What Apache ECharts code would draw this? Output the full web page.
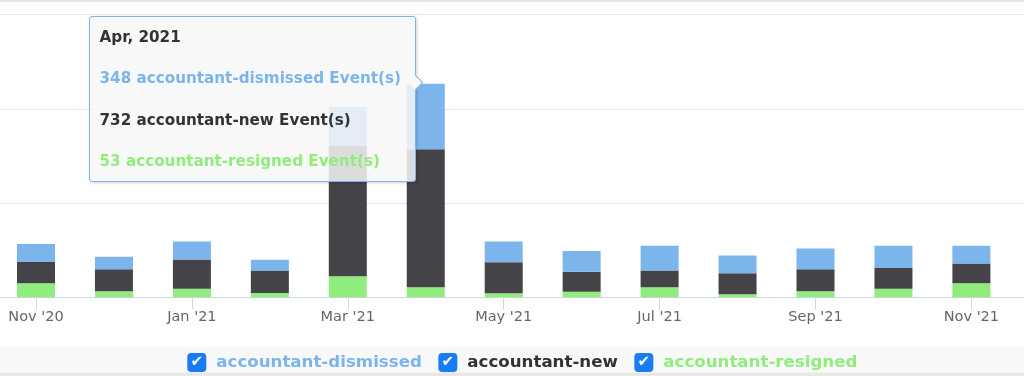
<!DOCTYPE html>
<html><head><meta charset="utf-8">
<script src="https://cdn.jsdelivr.net/npm/echarts@6/dist/echarts.min.js"></script>
<style>html,body{margin:0;padding:0;background:#fff;overflow:hidden;width:1024px;height:376px;position:relative;}
#chart{position:absolute;left:-10px;top:0;width:1044px;height:376px;}</style>
</head><body><div id="chart"></div>
<script>
// ---- data ----
const months = ["Nov '20","Dec '20","Jan '21","Feb '21","Mar '21","Apr '21","May '21","Jun '21","Jul '21","Aug '21","Sep '21","Oct '21","Nov '21"];
const tooltipTitles = ["Nov, 2020","Dec, 2020","Jan, 2021","Feb, 2021","Mar, 2021","Apr, 2021","May, 2021","Jun, 2021","Jul, 2021","Aug, 2021","Sep, 2021","Oct, 2021","Nov, 2021"];
const seriesNames = ["accountant-dismissed","accountant-new","accountant-resigned"];
const dismissed = [96, 66, 96, 57, 206, 348, 110, 110, 131, 94, 110, 117, 94];
const accountantNew = [112, 117, 154, 119, 691, 732, 165, 105, 89, 112, 117, 110, 104];
const resigned = [75, 32, 46, 23, 112, 53, 21, 30, 53, 16, 32, 46, 75];
const tickIndices = [0, 2, 4, 6, 8, 10, 12];
const yMax = 1500, yStep = 500;
const colors = ["#7cb5ec", "#434348", "#90ed7d"];
const tooltipIndex = 5;

// ---- layout (chart canvas is 10px wider on each side than the page) ----
const PAD = 10, W = 1024, FIRST_X = 36, STEP = 77.95;
const plotTop = 14.5, plotBottom = 78.7;
const font = "'DejaVu Sans', Verdana, sans-serif";

const chart = echarts.init(document.getElementById('chart'), null, {renderer: 'canvas'});

function line(txt, color) {
  return '<div style="height:41.5px;line-height:41.5px;color:' + color + ';">' + txt + '</div>';
}

const option = {
  animation: false,
  grid: [
    {left: PAD, right: PAD, top: plotTop, bottom: plotBottom},
    {left: PAD + FIRST_X - STEP / 2, right: PAD + W - (FIRST_X + STEP * (months.length - 0.5)), top: plotTop, bottom: plotBottom}
  ],
  xAxis: [
    {
      gridIndex: 0, type: 'value', min: -FIRST_X / STEP, max: (W - FIRST_X) / STEP,
      splitLine: {show: false},
      axisLine: {lineStyle: {color: '#ccd6eb', width: 1}},
      axisTick: {customValues: tickIndices, length: 12, lineStyle: {color: '#ccd6eb'}},
      axisLabel: {customValues: tickIndices, formatter: v => months[Math.round(v)], color: '#666',
        fontFamily: font, fontSize: 14.5, margin: 12}
    },
    {gridIndex: 1, type: 'category', data: months, show: false}
  ],
  yAxis: [
    {gridIndex: 0, type: 'value', min: 0, max: yMax, interval: yStep,
      axisLabel: {show: false}, axisLine: {show: false}, axisTick: {show: false},
      splitLine: {lineStyle: {color: '#e6e6e6'}}},
    {gridIndex: 1, type: 'value', min: 0, max: yMax, interval: yStep, show: false, splitLine: {show: false}}
  ],
  legend: {
    data: seriesNames, left: PAD + 182.3, top: 353, padding: 0, itemGap: 11.5,
    itemWidth: 0, itemHeight: 0,
    formatter: name => '{cb|✔}{n' + seriesNames.indexOf(name) + '|' + name + '}',
    textStyle: {
      fontFamily: font, fontWeight: 'bold', fontSize: 16.65,
      rich: {
        cb: {width: 19, height: 19, lineHeight: 19, align: 'center', backgroundColor: '#1a7cf4', borderRadius: 4,
          color: '#fff', fontSize: 15, fontWeight: 'bold', fontFamily: font},
        n0: {color: colors[0], padding: [0, 0, 0, 10], fontFamily: font, fontWeight: 'bold', fontSize: 16.65},
        n1: {color: '#333', padding: [0, 0, 0, 10], fontFamily: font, fontWeight: 'bold', fontSize: 16.65},
        n2: {color: colors[2], padding: [0, 0, 0, 10], fontFamily: font, fontWeight: 'bold', fontSize: 16.65}
      }
    }
  },
  tooltip: {
    trigger: 'item', triggerOn: 'none', alwaysShowContent: true, transitionDuration: 0,
    padding: 0, backgroundColor: 'rgba(247,247,247,0.85)', borderColor: '#7cb5ec', borderWidth: 1, borderRadius: 3,
    position: [PAD + 89, 16],
    extraCssText: 'box-shadow:1px 1px 3px rgba(0,0,0,0.18);',
    formatter: p => {
      const i = p.dataIndex;
      return '<div style="position:relative;width:325px;height:164px;font-family:' + font.replace(/'/g, '&quot;') +
        ';font-weight:bold;font-size:15.2px;">' +
        '<div style="position:absolute;left:9.5px;top:-0.5px;">' +
        line(tooltipTitles[i], '#333') +
        line(dismissed[i] + ' ' + seriesNames[0] + ' Event(s)', colors[0]) +
        line(accountantNew[i] + ' ' + seriesNames[1] + ' Event(s)', '#333') +
        line(resigned[i] + ' ' + seriesNames[2] + ' Event(s)', colors[2]) +
        '</div>' +
        '<div style="position:absolute;left:320px;top:59.5px;width:11px;height:11px;box-sizing:border-box;background:#f8f8f8;' +
        'border-top:1px solid #7cb5ec;border-right:1px solid #7cb5ec;transform:rotate(45deg);"></div></div>';
    }
  },
  graphic: [
    {type: 'rect', silent: true, z: -10, shape: {x: 0, y: 0, width: W + 2 * PAD, height: 2}, style: {fill: '#e6e6e6'}},
    {type: 'rect', silent: true, z: -10, shape: {x: 0, y: 347, width: W + 2 * PAD, height: 25.5}, style: {fill: '#f8f8f8'}},
    {type: 'rect', silent: true, z: -10, shape: {x: 0, y: 372.5, width: W + 2 * PAD, height: 3.5}, style: {fill: '#e8e8e8'}}
  ],
  series: [
    {name: seriesNames[2], type: 'bar', xAxisIndex: 1, yAxisIndex: 1, stack: 'events', barWidth: 38,
      data: resigned, itemStyle: {color: colors[2]}, emphasis: {disabled: true}},
    {name: seriesNames[1], type: 'bar', xAxisIndex: 1, yAxisIndex: 1, stack: 'events', barWidth: 38,
      data: accountantNew, itemStyle: {color: colors[1]}, emphasis: {disabled: true}},
    {name: seriesNames[0], type: 'bar', xAxisIndex: 1, yAxisIndex: 1, stack: 'events', barWidth: 38,
      data: dismissed, itemStyle: {color: colors[0]}, emphasis: {disabled: true}}
  ]
};
chart.setOption(option);
chart.dispatchAction({type: 'showTip', seriesIndex: 2, dataIndex: tooltipIndex});
</script></body></html>
